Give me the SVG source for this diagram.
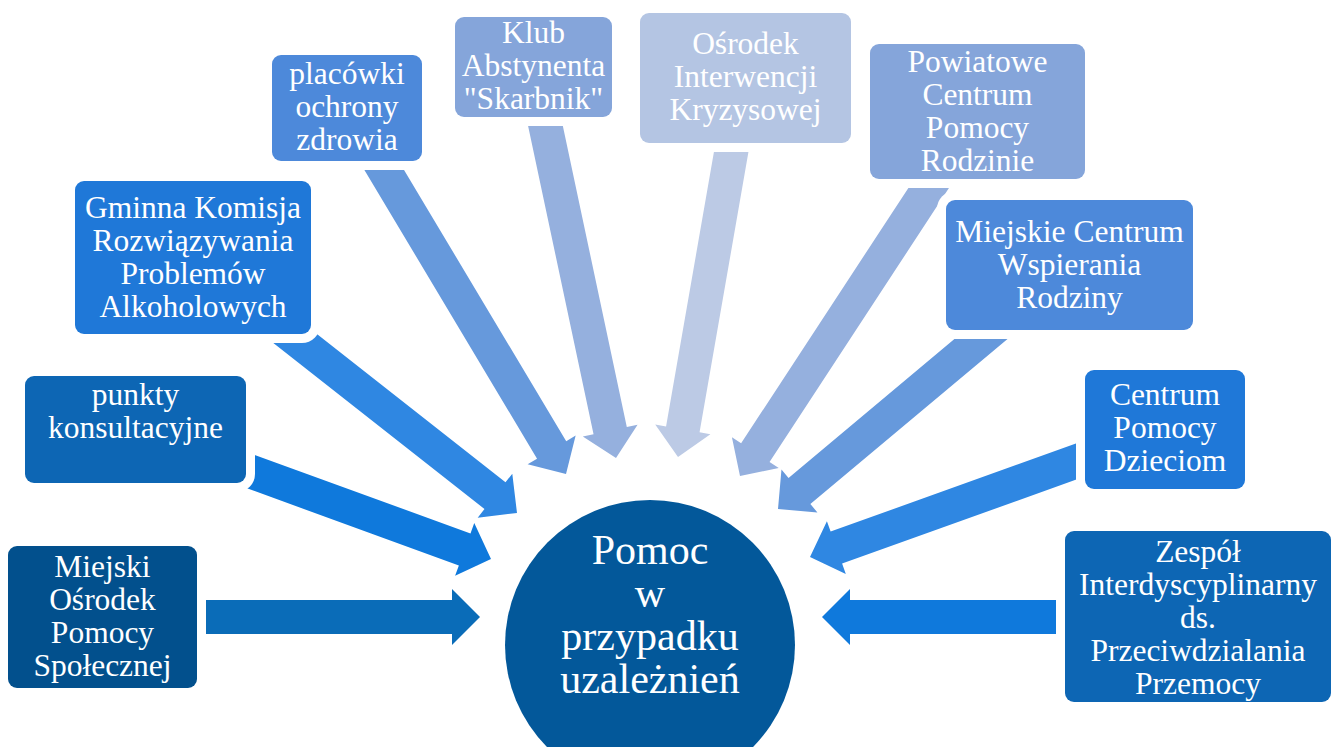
<svg xmlns="http://www.w3.org/2000/svg" width="1336" height="747" viewBox="0 0 1336 747">
<style>
.t{font-family:"Liberation Serif","Times New Roman",serif;font-size:31.5px;fill:#fff;text-anchor:middle}
.c{font-family:"Liberation Serif","Times New Roman",serif;font-size:42px;fill:#fff;text-anchor:middle}
.halo{fill:#fff}
.a1{fill:#0a6cb8}.a2{fill:#0f79dc}.a3{fill:#2f87e2}.a4{fill:#6699dc}.a5{fill:#95b0de}.a6{fill:#bccae5}
.b1{fill:#02508d}.b2{fill:#0d66b4}.b3{fill:#1f78d8}.b4{fill:#4d89da}.b5{fill:#85a5da}.b6{fill:#b4c5e3}
</style>
<rect width="1336" height="747" fill="#fff"/>
<g id="connectors">
<polygon class="a1" points="180,634 452,634 452,645 480,617 452,589 452,600 180,600"/>
<polygon class="a2" points="221.99,479.22 458.87,565.40 455.10,575.74 491,559 474.26,523.10 470.49,533.44 233.61,447.26"/>
<polygon class="a3" points="262.83,334.78 484.48,509.06 477.69,517.71 517,513 512.29,473.69 505.50,482.34 283.85,308.06"/>
<polygon class="a4" points="356.47,156.68 537.05,458.70 527.62,464.34 566,474 575.66,435.62 566.23,441.26 385.65,139.24"/>
<polygon class="a5" points="524.60,109.45 593.55,434.15 582.80,436.44 616,458 637.56,424.80 626.81,427.09 557.86,102.39"/>
<polygon class="a6" points="717.94,129.03 666.06,426.50 655.23,424.61 678,457 710.39,434.23 699.56,432.34 751.44,134.87"/>
<polygon class="a5" points="928.54,157.17 741.12,443.26 731.92,437.24 740,476 778.76,467.92 769.56,461.90 956.98,175.81"/>
<polygon class="a4" points="997.07,303.37 788.55,477.99 781.48,469.56 778,509 817.44,512.48 810.37,504.05 1018.89,329.43"/>
<polygon class="a3" points="1096.09,436.37 830.62,531.55 826.91,521.19 810,557 845.81,573.91 842.10,563.55 1107.57,468.37"/>
<polygon class="a2" points="1085,600 850,600 850,589 822,617 850,645 850,634 1085,634"/>
</g>
<g id="center">
<circle cx="650" cy="645" r="145" fill="#03589a"/>
<text class="c"><tspan x="650" y="564">Pomoc</tspan><tspan x="650" y="607">w</tspan><tspan x="650" y="650">przypadku</tspan><tspan x="650" y="693">uzależnień</tspan></text>
</g>
<g id="n1">
<rect class="halo" x="-1" y="537" width="207" height="160" rx="18"/>
<rect class="b1" x="8" y="546" width="189" height="142" rx="9"/>
<text class="t"><tspan x="102.5" y="577">Miejski</tspan><tspan x="102.5" y="610">Ośrodek</tspan><tspan x="102.5" y="643">Pomocy</tspan><tspan x="102.5" y="676">Społecznej</tspan></text>
</g>
<g id="n2">
<rect class="halo" x="16" y="367" width="239" height="125" rx="18"/>
<rect class="b2" x="25" y="376" width="221" height="107" rx="9"/>
<text class="t"><tspan x="135.5" y="405">punkty</tspan><tspan x="135.5" y="438">konsultacyjne</tspan></text>
</g>
<g id="n3">
<rect class="halo" x="66" y="172" width="254" height="171" rx="18"/>
<rect class="b3" x="75" y="181" width="236" height="153" rx="9"/>
<text class="t"><tspan x="193" y="218">Gminna Komisja</tspan><tspan x="193" y="251">Rozwiązywania</tspan><tspan x="193" y="284">Problemów</tspan><tspan x="193" y="317">Alkoholowych</tspan></text>
</g>
<g id="n4">
<rect class="halo" x="263" y="46" width="168" height="124" rx="18"/>
<rect class="b4" x="272" y="55" width="150" height="106" rx="9"/>
<text class="t"><tspan x="347" y="84">placówki</tspan><tspan x="347" y="117">ochrony</tspan><tspan x="347" y="150">zdrowia</tspan></text>
</g>
<g id="n5">
<rect class="halo" x="446" y="8" width="175" height="118" rx="18"/>
<rect class="b5" x="455" y="17" width="157" height="100" rx="9"/>
<text class="t"><tspan x="533.5" y="43">Klub</tspan><tspan x="533.5" y="76">Abstynenta</tspan><tspan x="533.5" y="109">"Skarbnik"</tspan></text>
</g>
<g id="n6">
<rect class="halo" x="631" y="4" width="229" height="148" rx="18"/>
<rect class="b6" x="640" y="13" width="211" height="130" rx="9"/>
<text class="t"><tspan x="745.5" y="54">Ośrodek</tspan><tspan x="745.5" y="87">Interwencji</tspan><tspan x="745.5" y="120">Kryzysowej</tspan></text>
</g>
<g id="n7">
<rect class="halo" x="861" y="35" width="233" height="153" rx="18"/>
<rect class="b5" x="870" y="44" width="215" height="135" rx="9"/>
<text class="t"><tspan x="977.5" y="72">Powiatowe</tspan><tspan x="977.5" y="105">Centrum</tspan><tspan x="977.5" y="138">Pomocy</tspan><tspan x="977.5" y="171">Rodzinie</tspan></text>
</g>
<g id="n8">
<rect class="halo" x="937" y="191" width="265" height="148" rx="18"/>
<rect class="b4" x="946" y="200" width="247" height="130" rx="9"/>
<text class="t"><tspan x="1069.5" y="242">Miejskie Centrum</tspan><tspan x="1069.5" y="275">Wspierania</tspan><tspan x="1069.5" y="308">Rodziny</tspan></text>
</g>
<g id="n9">
<rect class="halo" x="1076" y="361" width="178" height="137" rx="18"/>
<rect class="b3" x="1085" y="370" width="160" height="119" rx="9"/>
<text class="t"><tspan x="1165" y="405">Centrum</tspan><tspan x="1165" y="438">Pomocy</tspan><tspan x="1165" y="471">Dzieciom</tspan></text>
</g>
<g id="n10">
<rect class="halo" x="1056" y="522" width="284" height="189" rx="18"/>
<rect class="b2" x="1065" y="531" width="266" height="171" rx="9"/>
<text class="t"><tspan x="1198" y="562">Zespół</tspan><tspan x="1198" y="595">Interdyscyplinarny</tspan><tspan x="1198" y="628">ds.</tspan><tspan x="1198" y="661">Przeciwdzialania</tspan><tspan x="1198" y="694">Przemocy</tspan></text>
</g>
</svg>
